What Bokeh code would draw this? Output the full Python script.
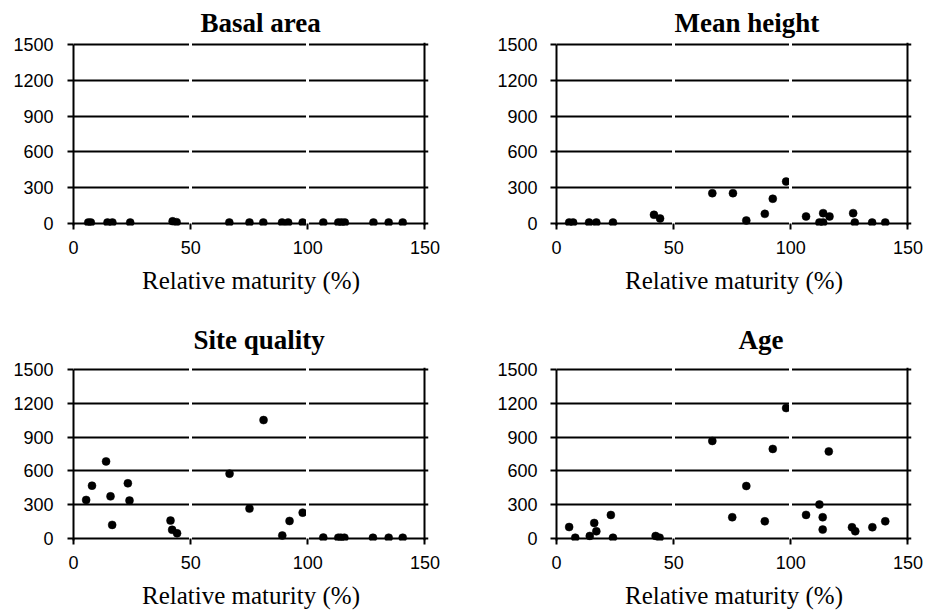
from bokeh.plotting import figure
from bokeh.layouts import column, row
from bokeh.models import Range1d, FixedTicker, Grid
from bokeh.embed import file_html
from bokeh.resources import INLINE

# ---------------- data ----------------
titles = ["Basal area", "Mean height", "Site quality", "Age"]
x_label = "Relative maturity (%)"
x_ticks = [0, 50, 100, 150]
y_ticks = [0, 300, 600, 900, 1200, 1500]
gap_ticks = [50, 100]

basal_x = [6.3, 7.4, 14.5, 16.6, 24.2, 42.3, 44.0, 66.5, 75.1, 81.0, 89.0, 91.6,
           97.8, 106.6, 113.0, 114.4, 115.8, 128.0, 134.5, 140.5]
basal_y = [5, 5, 5, 5, 5, 15, 8, 5, 5, 5, 5, 5, 5, 5, 5, 5, 5, 5, 5, 5]

height_x = [5.4, 7.1, 13.9, 17.0, 24.1, 41.6, 44.2, 66.5, 75.3, 81.0, 88.9, 92.3,
            98.0, 106.5, 112.2, 113.8, 113.8, 116.5, 126.6, 127.3, 134.7, 140.3]
height_y = [5, 5, 5, 5, 5, 70, 39, 252, 252, 22, 78, 205, 350, 56, 5, 84, 5, 56,
            84, 5, 5, 5]

site_x = [5.4, 7.9, 13.9, 15.8, 16.5, 23.2, 23.9, 41.4, 42.1, 44.2, 66.6, 75.1,
          81.1, 89.1, 92.2, 97.8, 106.6, 113.0, 114.1, 115.6, 127.8, 134.5, 140.5]
site_y = [341, 468, 684, 373, 119, 489, 335, 157, 75, 44, 575, 264, 1052, 24, 154,
          228, 6, 5, 5, 5, 5, 5, 5]

age_x = [5.4, 8.0, 14.2, 16.1, 17.0, 23.2, 24.1, 42.3, 44.0, 66.5, 75.0, 81.0,
         88.9, 92.3, 98.0, 106.5, 112.2, 113.6, 113.6, 116.2, 126.1, 127.5, 134.8, 140.3]
age_y = [100, 5, 20, 136, 62, 207, 5, 20, 5, 866, 187, 465, 151, 795, 1159, 208,
         300, 187, 77, 773, 98, 62, 98, 151]

# small view padding so that markers on the box edges are not clipped
Y_PAD = 20
X_PAD = 1.5
GAP_HALF = 15  # half height (data units) of the white breaks in the grid lines


def make_panel(title, xs, ys, width, height, bl, br, bt, bb,
               y_standoff, title_offset, title_standoff, label_standoff):
    x0, x1 = x_ticks[0], x_ticks[-1]
    y0, y1 = y_ticks[0], y_ticks[-1]
    p = figure(width=width, height=height, output_backend="svg",
               toolbar_location=None, title=title,
               x_range=Range1d(x0, x1 + X_PAD),
               y_range=Range1d(y0 - Y_PAD, y1 + Y_PAD),
               min_border_left=bl, min_border_right=br,
               min_border_top=bt, min_border_bottom=bb)
    p.outline_line_color = None
    p.background_fill_color = "white"
    p.border_fill_color = "white"

    p.title.align = "left"
    p.title.offset = title_offset
    p.title.standoff = title_standoff
    p.title.text_font = "Liberation Serif"
    p.title.text_font_size = "27px"
    p.title.text_font_style = "bold"
    p.title.text_color = "black"

    # inner horizontal grid lines
    p.ygrid.ticker = FixedTicker(ticks=y_ticks[1:-1])
    p.ygrid.grid_line_color = "black"
    p.ygrid.grid_line_width = 2
    p.ygrid.bounds = (x0, x1)
    p.xgrid.visible = False

    # thin white breaks in each inner grid line at x = 50 and 100
    for yt in y_ticks[1:-1]:
        p.add_layout(Grid(dimension=0, ticker=FixedTicker(ticks=gap_ticks),
                          bounds=(yt - GAP_HALF, yt + GAP_HALF),
                          grid_line_color="white", grid_line_width=3,
                          level="glyph"))

    # zero line and top of box, right side of box
    p.add_layout(Grid(dimension=1, ticker=FixedTicker(ticks=[y0, y1]),
                      bounds=(x0, x1), grid_line_color="black",
                      grid_line_width=2, level="underlay"))
    p.add_layout(Grid(dimension=0, ticker=FixedTicker(ticks=[x1]),
                      bounds=(y0 - Y_PAD, y1), grid_line_color="black",
                      grid_line_width=2, level="underlay"))

    xa = p.xaxis[0]
    xa.ticker = FixedTicker(ticks=x_ticks)
    xa.axis_line_color = None
    xa.major_tick_line_width = 2
    xa.major_tick_line_color = "black"
    xa.major_tick_in = 2
    xa.major_tick_out = 4
    xa.minor_tick_line_color = None
    xa.major_label_standoff = 11
    xa.major_label_text_font = "Liberation Sans"
    xa.major_label_text_font_size = "18px"
    xa.major_label_text_color = "black"
    xa.axis_label = x_label
    xa.axis_label_text_font = "Liberation Serif"
    xa.axis_label_text_font_size = "25px"
    xa.axis_label_text_font_style = "normal"
    xa.axis_label_text_color = "black"
    xa.axis_label_standoff = label_standoff

    ya = p.yaxis[0]
    ya.ticker = FixedTicker(ticks=y_ticks)
    ya.bounds = (y0 - Y_PAD, y1)
    ya.axis_line_width = 2
    ya.axis_line_color = "black"
    ya.major_tick_line_width = 2
    ya.major_tick_line_color = "black"
    ya.major_tick_in = 0
    ya.major_tick_out = 6
    ya.minor_tick_line_color = None
    ya.major_label_standoff = y_standoff
    ya.major_label_text_font = "Liberation Sans"
    ya.major_label_text_font_size = "18px"
    ya.major_label_text_color = "black"

    p.scatter(xs, ys, marker="circle", size=8, fill_color="black",
              line_color="black", line_width=0.5)
    return p


p1 = make_panel(titles[0], basal_x, basal_y, 467, 300, 73, 39, 41, 75, 14, 127, 10, 10)
p2 = make_panel(titles[1], height_x, height_y, 467, 300, 89, 23, 41, 75, 13, 118, 10, 10)
p3 = make_panel(titles[2], site_x, site_y, 467, 314, 73, 39, 67, 74, 14, 120, 26, 10)
p4 = make_panel(titles[3], age_x, age_y, 467, 314, 89, 23, 67, 74, 13, 182, 26, 10)

layout = column(row(p1, p2, spacing=0), row(p3, p4, spacing=0), spacing=0)

open("out.html", "w").write(file_html(layout, INLINE))
